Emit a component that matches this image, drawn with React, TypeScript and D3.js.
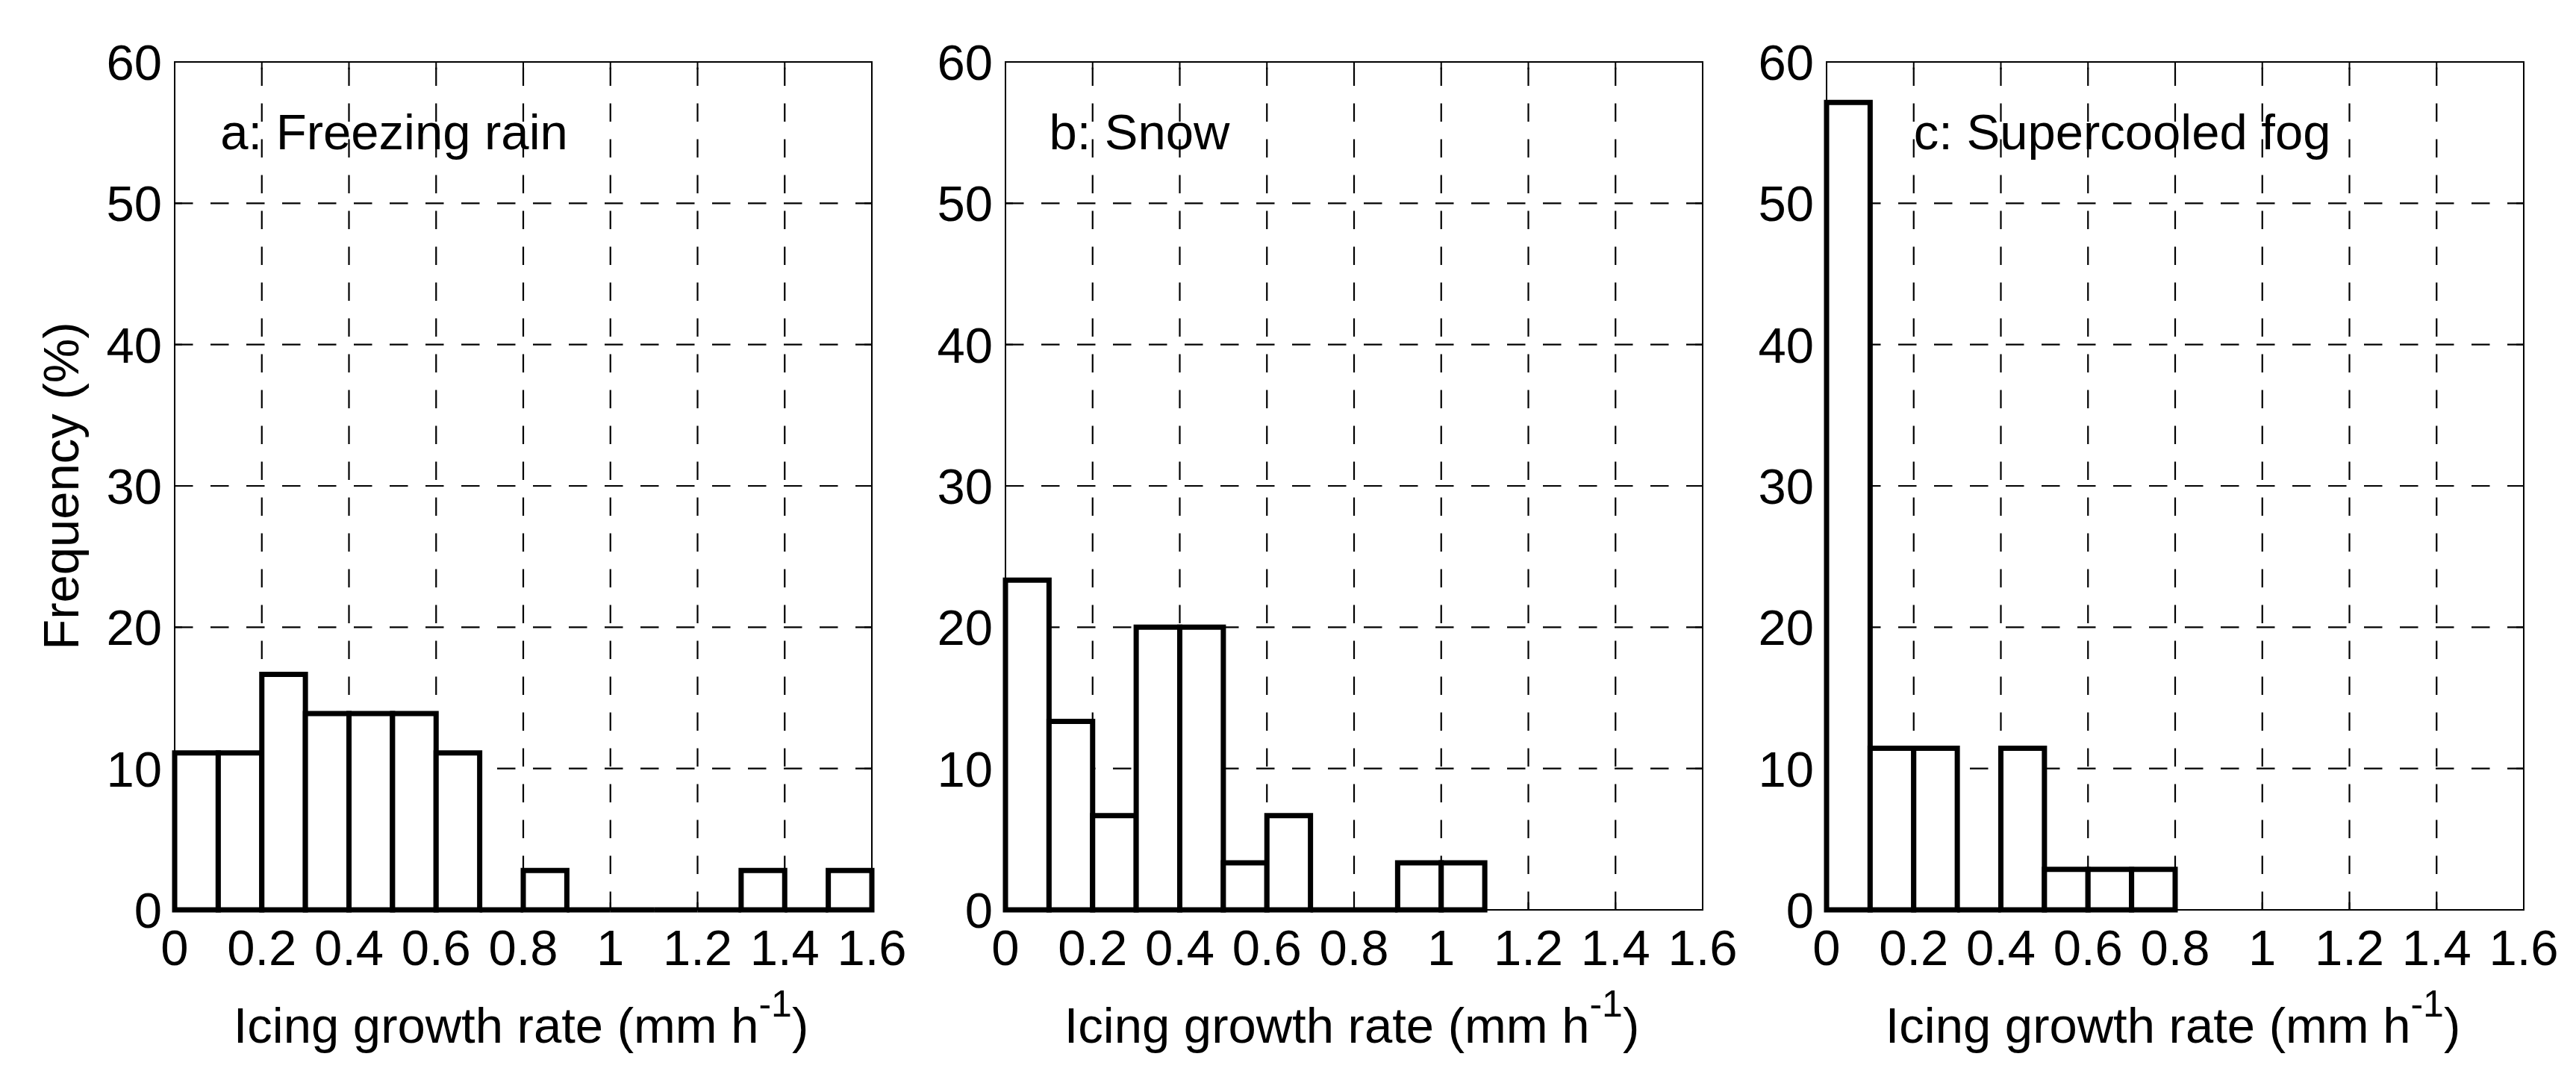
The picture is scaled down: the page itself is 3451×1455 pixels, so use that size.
import React, { useEffect, useRef } from 'react';
import * as d3 from 'd3';

// bin left edges (mm h-1), bins are 0.1 wide
const binStarts = [0, 0.1, 0.2, 0.3, 0.4, 0.5, 0.6, 0.7, 0.8, 0.9, 1.0, 1.1, 1.2, 1.3, 1.4, 1.5];
const binWidth = 0.1;

// frequency (%) per bin
const freezingRain = [11.11, 11.11, 16.67, 13.89, 13.89, 13.89, 11.11, 0, 2.78, 0, 0, 0, 0, 2.78, 0, 2.78];
const snow = [23.33, 13.33, 6.67, 20, 20, 3.33, 6.67, 0, 0, 3.33, 3.33];
const supercooledFog = [57.14, 11.43, 11.43, 0, 11.43, 2.86, 2.86, 2.86];

const panelTitles = ['a: Freezing rain', 'b: Snow', 'c: Supercooled fog'];
const xTicks = [0, 0.2, 0.4, 0.6, 0.8, 1, 1.2, 1.4, 1.6];
const yTicks = [0, 10, 20, 30, 40, 50, 60];

const FONT = '"Liberation Sans", Arial, Helvetica, sans-serif';
const FS = 67;

const App = () => {
  const ref = useRef<SVGSVGElement>(null);

  useEffect(() => {
    drawChart();
  });

  const drawChart = () => {
    const widthValue = 3451;
    const heightValue = 1455;
    const svg = d3.select(ref.current);
    svg.selectAll('*').remove();
    svg.attr('viewBox', `0 0 ${widthValue} ${heightValue}`);

    svg
      .append('rect')
      .attr('width', widthValue)
      .attr('height', heightValue)
      .attr('fill', 'white');

    const series = [freezingRain, snow, supercooledFog];
    const lefts = [234, 1347, 2447];
    const plotWidth = 934;
    const top = 83;
    const bottom = 1219;
    const titleAt = [0.105, 0.1, 0.2];

    const yScale = d3.scaleLinear().domain([0, 60]).range([bottom, top]);

    series.forEach((values, p) => {
      const left = lefts[p];
      const xScale = d3
        .scaleLinear()
        .domain([0, 1.6])
        .range([left, left + plotWidth]);
      const g = svg.append('g');

      // dashed grid, MATLAB style (from bottom / from left)
      g.selectAll('.vgrid')
        .data(xTicks.slice(1, -1))
        .join('line')
        .attr('x1', d => xScale(d))
        .attr('x2', d => xScale(d))
        .attr('y1', bottom)
        .attr('y2', top)
        .attr('stroke', 'black')
        .attr('stroke-width', 2.2)
        .attr('stroke-dasharray', '24.5 23.5');
      g.selectAll('.hgrid')
        .data(yTicks.slice(1, -1))
        .join('line')
        .attr('x1', left)
        .attr('x2', left + plotWidth)
        .attr('y1', d => yScale(d))
        .attr('y2', d => yScale(d))
        .attr('stroke', 'black')
        .attr('stroke-width', 2.2)
        .attr('stroke-dasharray', '24.5 23.5');

      // inward ticks on all four sides
      const tickLen = 10;
      xTicks.forEach(t => {
        const x = xScale(t);
        g.append('line').attr('x1', x).attr('x2', x).attr('y1', bottom).attr('y2', bottom - tickLen)
          .attr('stroke', 'black').attr('stroke-width', 2);
        g.append('line').attr('x1', x).attr('x2', x).attr('y1', top).attr('y2', top + tickLen)
          .attr('stroke', 'black').attr('stroke-width', 2);
      });
      yTicks.forEach(t => {
        const y = yScale(t);
        g.append('line').attr('x1', left).attr('x2', left + tickLen).attr('y1', y).attr('y2', y)
          .attr('stroke', 'black').attr('stroke-width', 2);
        g.append('line').attr('x1', left + plotWidth).attr('x2', left + plotWidth - tickLen).attr('y1', y).attr('y2', y)
          .attr('stroke', 'black').attr('stroke-width', 2);
      });

      // axes box
      g.append('rect')
        .attr('x', left)
        .attr('y', top)
        .attr('width', plotWidth)
        .attr('height', bottom - top)
        .attr('fill', 'none')
        .attr('stroke', 'black')
        .attr('stroke-width', 2);

      // histogram bars (paths so zero-height bins still draw)
      g.selectAll('.bar')
        .data(values)
        .join('path')
        .attr('d', (d, i) => {
          const x0 = xScale(binStarts[i]);
          const x1 = xScale(binStarts[i] + binWidth);
          const y0 = yScale(0);
          const y1 = yScale(d);
          return `M${x0},${y0}V${y1}H${x1}V${y0}Z`;
        })
        .attr('fill', 'white')
        .attr('stroke', 'black')
        .attr('stroke-width', 7)
        .attr('stroke-linejoin', 'miter');

      // tick labels
      g.selectAll('.xlab')
        .data(xTicks)
        .join('text')
        .attr('x', d => xScale(d))
        .attr('y', 1293)
        .attr('text-anchor', 'middle')
        .attr('font-family', FONT)
        .attr('font-size', FS)
        .text(d => String(d));
      g.selectAll('.ylab')
        .data(yTicks)
        .join('text')
        .attr('x', left - 17)
        .attr('y', d => yScale(d) + 24)
        .attr('text-anchor', 'end')
        .attr('font-family', FONT)
        .attr('font-size', FS)
        .text(d => String(d));

      // panel title
      g.append('text')
        .attr('x', xScale(titleAt[p]))
        .attr('y', 200)
        .attr('font-family', FONT)
        .attr('font-size', FS)
        .text(panelTitles[p]);

      // x axis label with superscript
      const xl = g
        .append('text')
        .attr('x', left + plotWidth / 2 - 3)
        .attr('y', 1397)
        .attr('text-anchor', 'middle')
        .attr('font-family', FONT)
        .attr('font-size', FS);
      xl.append('tspan').text('Icing growth rate (mm h');
      xl.append('tspan').attr('font-size', 50).attr('dy', -35).text('-1');
      xl.append('tspan').attr('dy', 35).text(')');
    });

    // y axis label (left panel only)
    svg
      .append('text')
      .attr('transform', `translate(105,${(top + bottom) / 2}) rotate(-90)`)
      .attr('text-anchor', 'middle')
      .attr('font-family', FONT)
      .attr('font-size', FS)
      .text('Frequency (%)');
  };

  return (
    <svg
      ref={ref}
      width={3451}
      height={1455}
      style={{ position: 'absolute', left: 0, top: 0, display: 'block' }}
    />
  );
};

export default App;
